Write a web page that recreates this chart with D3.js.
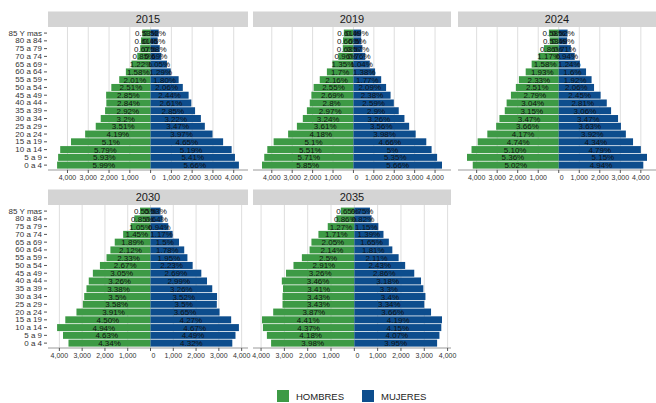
<!DOCTYPE html>
<html><head><meta charset="utf-8">
<script src="https://cdn.jsdelivr.net/npm/d3@7"></script>
<style>body{margin:0;background:#fff}svg{display:block;font-family:"Liberation Sans",Arial,sans-serif}</style>
</head><body><svg id="c" width="656" height="403"></svg>
<script>
// Age groups, bottom to top
const ages = ["0 a 4","5 a 9","10 a 14","15 a 19","20 a 24","25 a 29","30 a 34","35 a 39","40 a 44","45 a 49","50 a 54","55 a 59","60 a 64","65 a 69","70 a 74","75 a 79","80 a 84","85 Y mas"];
const years = ["2015","2019","2024","2030","2035"];
const seriesNames = ["HOMBRES","MUJERES"];

// Population counts (bottom to top)
const hombres2015 = [4500,4450,4350,3830,3150,2640,2400,2190,2130,2140,1890,1510,1190,920,640,500,460,400];
const mujeres2015 = [4250,4060,3900,3490,2980,2610,2420,2140,1960,1830,1550,1350,970,790,520,440,340,390];
const hombres2019 = [4480,4370,4220,3910,3200,2770,2480,2280,2140,2060,1950,1650,1300,1030,740,520,510,470];
const mujeres2019 = [4340,4100,3830,3570,3050,2730,2500,2220,1980,1820,1600,1360,1060,800,580,440,380,380];
const hombres2024 = [4190,4470,4250,3950,3480,3050,2890,2630,2540,2330,2090,1940,1610,1320,980,720,440,480];
const mujeres2024 = [4120,4300,4000,3620,3270,3030,2890,2550,2340,2040,1720,1600,1330,1030,780,590,410,430];
const hombres2030 = [3600,3840,4100,3740,3250,2970,2910,2810,2710,2530,2220,1930,1760,1570,1200,870,710,460];
const mujeres2030 = [3590,3730,3880,3540,3030,2910,2920,2710,2480,2230,1850,1620,1480,1250,970,780,530,440];
const hombres2035 = [3570,3750,3920,3960,3480,3080,3080,3060,3110,2930,2610,2250,1920,1840,1540,1140,770,580];
const mujeres2035 = [3550,3650,3730,3760,3290,3000,3050,2960,2860,2570,2180,1900,1630,1480,1250,1030,740,670];

// Percentage labels (bottom to top)
const pctH2015 = ["5.99%","5.93%","5.79%","5.1%","4.19%","3.51%","3.2%","2.92%","2.84%","2.85%","2.51%","2.01%","1.58%","1.22%","0.85%","0.67%","0.61%","0.53%"];
const pctM2015 = ["5.66%","5.41%","5.19%","4.65%","3.97%","3.47%","3.22%","2.85%","2.61%","2.44%","2.06%","1.80%","1.29%","1.05%","0.69%","0.58%","0.45%","0.52%"];
const pctH2019 = ["5.85%","5.71%","5.51%","5.1%","4.18%","3.61%","3.24%","2.97%","2.8%","2.69%","2.55%","2.16%","1.7%","1.35%","0.96%","0.68%","0.66%","0.61%"];
const pctM2019 = ["5.66%","5.35%","5%","4.66%","3.98%","3.56%","3.26%","2.9%","2.59%","2.38%","2.09%","1.77%","1.38%","1.04%","0.76%","0.57%","0.5%","0.49%"];
const pctH2024 = ["5.02%","5.36%","5.10%","4.74%","4.17%","3.66%","3.47%","3.15%","3.04%","2.79%","2.51%","2.33%","1.93%","1.58%","1.17%","0.86%","0.53%","0.58%"];
const pctM2024 = ["4.94%","5.15%","4.79%","4.34%","3.92%","3.63%","3.47%","3.06%","2.81%","2.45%","2.06%","1.92%","1.6%","1.24%","0.94%","0.71%","0.49%","0.52%"];
const pctH2030 = ["4.34%","4.63%","4.94%","4.50%","3.91%","3.58%","3.5%","3.38%","3.26%","3.05%","2.67%","2.33%","2.12%","1.89%","1.45%","1.05%","0.85%","0.55%"];
const pctM2030 = ["4.32%","4.49%","4.67%","4.27%","3.65%","3.5%","3.52%","3.26%","2.99%","2.69%","2.23%","1.95%","1.78%","1.5%","1.17%","0.94%","0.64%","0.53%"];
const pctH2035 = ["3.98%","4.18%","4.37%","4.41%","3.87%","3.43%","3.43%","3.41%","3.46%","3.26%","2.91%","2.5%","2.14%","2.05%","1.71%","1.27%","0.86%","0.65%"];
const pctM2035 = ["3.95%","4.07%","4.15%","4.19%","3.66%","3.34%","3.4%","3.3%","3.18%","2.86%","2.43%","2.11%","1.81%","1.65%","1.39%","1.15%","0.82%","0.75%"];

const tickValues = [-4000,-3000,-2000,-1000,0,1000,2000,3000,4000];

const H = {"2015":hombres2015,"2019":hombres2019,"2024":hombres2024,"2030":hombres2030,"2035":hombres2035};
const M = {"2015":mujeres2015,"2019":mujeres2019,"2024":mujeres2024,"2030":mujeres2030,"2035":mujeres2035};
const PH = {"2015":pctH2015,"2019":pctH2019,"2024":pctH2024,"2030":pctH2030,"2035":pctH2035};
const PM = {"2015":pctM2015,"2019":pctM2019,"2024":pctM2024,"2030":pctM2030,"2035":pctM2035};

const colors = {HOMBRES:"#3d9a45", MUJERES:"#0d4d8d"};
const svg = d3.select("#c");

const colX = [48, 253, 458];
const panelW = 198;
const rowOffset = [0, 178];
const stripTop = 11.5, stripH = 15.5, bandTop = 29.2, bandBottom = 169, axisY = 170;

years.forEach((yr, i) => {
  const col = i % 3, row = Math.floor(i / 3);
  const x0 = colX[col], dy = rowOffset[row];
  const w = col === 0 ? 200 : panelW;
  const hm = H[yr], mj = M[yr];
  const maxM = d3.max(hm), maxF = d3.max(mj);
  const pad = 0.05 * (maxM + maxF);
  const x = d3.scaleLinear().domain([-(maxM + pad), maxF + pad]).range([x0, x0 + w]);
  const y = d3.scaleBand().domain(ages.slice().reverse()).range([bandTop + dy, bandBottom + dy]).paddingInner(0.1).paddingOuter(0.05);
  const g = svg.append("g");

  // strip
  g.append("rect").attr("x", x0).attr("y", stripTop + dy).attr("width", w).attr("height", stripH).attr("fill", "#d4d4d4");
  g.append("text").attr("x", x0 + w / 2).attr("y", stripTop + dy + stripH / 2).attr("text-anchor", "middle")
    .attr("dominant-baseline", "central").attr("font-size", 11).attr("fill", "#1a1a1a").text(yr);

  const ticks = tickValues.filter(t => t >= x.domain()[0] && t <= x.domain()[1]);
  // gridlines
  g.selectAll(".grid").data(ticks).join("line")
    .attr("x1", d => x(d)).attr("x2", d => x(d)).attr("y1", stripTop + stripH + dy).attr("y2", axisY + dy)
    .attr("stroke", "#dedede").attr("stroke-width", 1);

  // bars
  const rowsData = ages.map((a, k) => ({age: a, h: hm[k], m: mj[k], ph: PH[yr][k], pm: PM[yr][k]}));
  g.selectAll(".bh").data(rowsData).join("rect")
    .attr("x", d => x(-d.h)).attr("width", d => x(0) - x(-d.h))
    .attr("y", d => y(d.age)).attr("height", y.bandwidth()).attr("fill", colors.HOMBRES);
  g.selectAll(".bm").data(rowsData).join("rect")
    .attr("x", x(0)).attr("width", d => x(d.m) - x(0))
    .attr("y", d => y(d.age)).attr("height", y.bandwidth()).attr("fill", colors.MUJERES);

  // labels
  g.selectAll(".lh").data(rowsData).join("text")
    .attr("x", d => x(-d.h / 2)).attr("y", d => y(d.age) + y.bandwidth() / 2 + 0.5)
    .attr("text-anchor", "middle").attr("dominant-baseline", "central").attr("font-size", 8).attr("fill", "#111")
    .text(d => d.ph);
  g.selectAll(".lm").data(rowsData).join("text")
    .attr("x", d => x(d.m / 2)).attr("y", d => y(d.age) + y.bandwidth() / 2 + 0.5)
    .attr("text-anchor", "middle").attr("dominant-baseline", "central").attr("font-size", 8).attr("fill", "#111")
    .text(d => d.pm);

  // x axis
  g.append("line").attr("x1", x0).attr("x2", x0 + w).attr("y1", axisY + dy).attr("y2", axisY + dy)
    .attr("stroke", "#9a9a9a").attr("stroke-width", 1);
  g.selectAll(".xt").data(ticks).join("line")
    .attr("x1", d => x(d)).attr("x2", d => x(d)).attr("y1", axisY + dy).attr("y2", axisY + dy + 3)
    .attr("stroke", "#555");
  g.selectAll(".xl").data(ticks).join("text")
    .attr("x", d => x(d) + (d === 0 ? 3 : 0)).attr("y", axisY + dy + 7.5)
    .attr("text-anchor", "middle").attr("dominant-baseline", "central").attr("font-size", 7).attr("fill", "#333")
    .text(d => d3.format(",")(Math.abs(d)));

  // y axis (left column only)
  if (col === 0) {
    g.selectAll(".yt").data(ages).join("line")
      .attr("x1", x0 - 4).attr("x2", x0 - 1).attr("y1", d => y(d) + y.bandwidth() / 2).attr("y2", d => y(d) + y.bandwidth() / 2)
      .attr("stroke", "#555");
    g.selectAll(".yl").data(ages).join("text")
      .attr("x", x0 - 6).attr("y", d => y(d) + y.bandwidth() / 2)
      .attr("text-anchor", "end").attr("dominant-baseline", "central").attr("font-size", 8).attr("fill", "#333")
      .text(d => d);
  }
});

// legend
const lg = svg.append("g");
const legX = [277, 362];
seriesNames.forEach((s, k) => {
  lg.append("rect").attr("x", legX[k]).attr("y", 390).attr("width", 12).attr("height", 12).attr("fill", colors[s]);
  lg.append("text").attr("x", legX[k] + 19).attr("y", 396.5).attr("dominant-baseline", "central")
    .attr("font-size", 9.5).attr("fill", "#222").text(s);
});
</script>
</body></html>
